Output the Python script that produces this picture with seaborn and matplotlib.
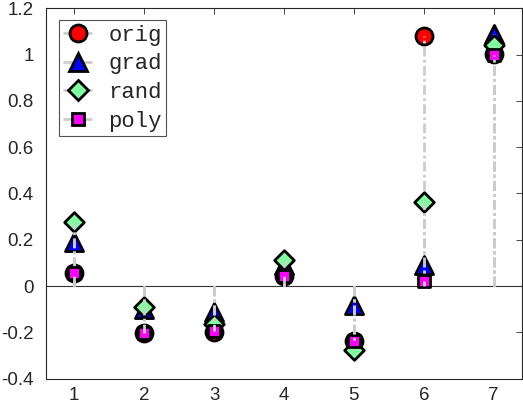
import numpy as np
import pandas as pd
import matplotlib
matplotlib.use("Agg")
import matplotlib.pyplot as plt
from matplotlib.lines import Line2D
from matplotlib.legend_handler import HandlerLine2D
import seaborn as sns

# data
x_pos = [1, 2, 3, 4, 5, 6, 7]
orig = [0.057, -0.203, -0.198, 0.044, -0.238, 1.08, 1.004]
grad = [0.19, -0.10, -0.112, 0.09, -0.083, 0.09, 1.09]
rand = [0.277, -0.092, -0.165, 0.111, -0.277, 0.363, 1.04]
poly = [0.057, -0.203, -0.195, 0.044, -0.238, 0.021, 0.997]

series_names = ["orig", "grad", "rand", "poly"]
series_values = [orig, grad, rand, poly]
face_colors = ["#ff0000", "#0000ff", "#80ff9f", "#ff00ff"]
marker_shapes = ["o", "^", "D", "s"]
marker_sizes = [150, 170, 100, 70]

y_ticks = [-0.4, -0.2, 0, 0.2, 0.4, 0.6, 0.8, 1, 1.2]
y_tick_labels = ["-0.4", "-0.2", "0", "0.2", "0.4", "0.6", "0.8", "1", "1.2"]

df = pd.DataFrame({
    "x": np.tile(x_pos, len(series_names)),
    "value": np.concatenate(series_values),
    "series": np.repeat(series_names, len(x_pos)),
})


class EndMarkerHandler(HandlerLine2D):
    """legend 핸들에서 마커를 선의 오른쪽 끝에 둔다."""

    def get_xdata(self, legend, xdescent, ydescent, width, height, fontsize):
        xdata, _ = super().get_xdata(legend, xdescent, ydescent, width,
                                     height, fontsize)
        return xdata, np.array([xdata[-1]])


sns.set_style("white")
plt.rcParams["font.family"] = ["Liberation Sans", "DejaVu Sans"]

fig = plt.figure(figsize=(5.23, 4.04), dpi=100)
ax = fig.add_axes([0.0885, 0.0626, 0.909, 0.917])

stem_color = (0.8, 0.8, 0.8)
stem_dash = (0, (3.5, 1.2, 1, 1.2))
for i, name in enumerate(series_names):
    sub = df[df["series"] == name]
    sns.scatterplot(
        data=sub, x="x", y="value", marker=marker_shapes[i],
        s=marker_sizes[i], color=face_colors[i], edgecolor="black",
        linewidth=2, ax=ax, zorder=3 + 2 * i, legend=False,
    )
    ax.vlines(sub["x"], 0, sub["value"], colors=[stem_color],
              linestyles=[stem_dash], linewidth=2, zorder=4 + 2 * i)

ax.axhline(0, color=(0.2, 0.2, 0.2), linewidth=0.8, zorder=2)

ax.set_xlim(0.6, 7.4)
ax.set_ylim(-0.4, 1.2)
ax.set_xticks(x_pos)
ax.set_xticklabels([str(v) for v in x_pos])
ax.set_yticks(y_ticks)
ax.set_yticklabels(y_tick_labels)
ax.set_xlabel("")
ax.set_ylabel("")
ax.tick_params(direction="in", length=4, width=0.6, color=(0.15, 0.15, 0.15),
               labelsize=13.5, labelcolor=(0.15, 0.15, 0.15),
               top=True, right=True)
ax.tick_params(axis="x", pad=6)
ax.tick_params(axis="y", pad=9)
for spine in ax.spines.values():
    spine.set_color((0.15, 0.15, 0.15))
    spine.set_linewidth(0.8)

handles = []
for i, name in enumerate(series_names):
    handles.append(Line2D(
        [0, 1], [0, 0], color=stem_color, linewidth=2, linestyle=stem_dash,
        marker=marker_shapes[i], markersize=np.sqrt(marker_sizes[i]),
        markerfacecolor=face_colors[i], markeredgecolor="black",
        markeredgewidth=2,
    ))
leg = ax.legend(handles, series_names, loc="upper left", numpoints=1,
                handler_map={Line2D: EndMarkerHandler()},
                prop={"family": "Liberation Mono", "size": 16},
                frameon=True, fancybox=False, edgecolor=(0.15, 0.15, 0.15),
                handlelength=1.35, handletextpad=0.7, borderpad=0.2,
                labelspacing=0.34, borderaxespad=0.55)
leg.get_frame().set_linewidth(0.8)

fig.savefig("out.png", dpi=100)
